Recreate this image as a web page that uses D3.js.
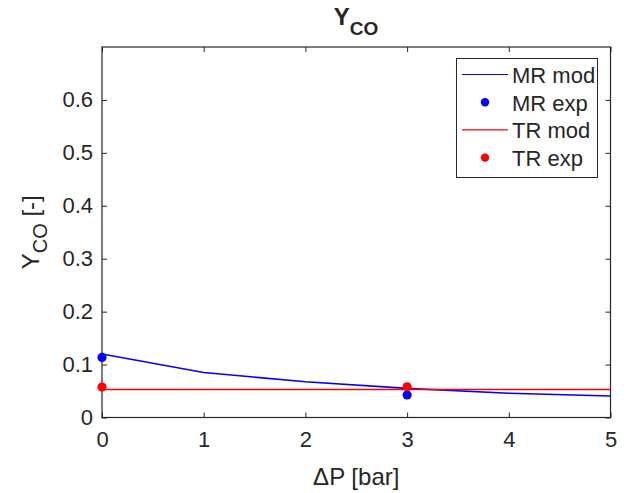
<!DOCTYPE html>
<html>
<head>
<meta charset="utf-8">
<script src="https://cdn.jsdelivr.net/npm/d3@7"></script>
<style>
  body { margin: 0; background: #fff; }
  svg text { font-family: "Liberation Sans", Arial, Helvetica, sans-serif; fill: #262626; }
</style>
</head>
<body>
<div></div>
<script>
// data
const dP = [0, 1, 2, 3, 4, 5];
const mrMod = [0.120, 0.085, 0.0675, 0.055, 0.0458, 0.0405];
const trMod = [0.053, 0.053, 0.053, 0.053, 0.053, 0.053];
const expP = [0, 3];
const mrExp = [0.1135, 0.0425];
const trExp = [0.0575, 0.058];
const xTicks = [0, 1, 2, 3, 4, 5];
const yTicks = [0, 0.1, 0.2, 0.3, 0.4, 0.5, 0.6];
const legendItems = ["MR mod", "MR exp", "TR mod", "TR exp"];

const w = 629, h = 493;
const axL = 102, axR = 610.5, axT = 47, axB = 417.5;
const axisCol = "#262626";

const xScale = d3.scaleLinear().domain([0, 5]).range([axL, axR]);
const yScale = d3.scaleLinear().domain([0, 0.7]).range([axB, axT]);

const svg = d3.select("div").append("svg")
  .attr("width", w).attr("height", h);

// axes box with inward ticks on all four sides
const tickLen = 5;
const xAxis = d3.axisBottom(xScale).tickValues(xTicks).tickSizeInner(-tickLen).tickSizeOuter(0).tickPadding(14).tickFormat(d3.format("d"));
const yAxis = d3.axisLeft(yScale).tickValues(yTicks).tickSizeInner(-tickLen).tickSizeOuter(0).tickPadding(9).tickFormat(d => d === 0 ? "0" : d3.format(".1f")(d));
const xTop = d3.axisTop(xScale).tickValues(xTicks).tickSizeInner(-tickLen).tickSizeOuter(0).tickFormat("");
const yRight = d3.axisRight(yScale).tickValues(yTicks).tickSizeInner(-tickLen).tickSizeOuter(0).tickFormat("");

function styleAxis(g) {
  g.select(".domain").remove();
  g.selectAll(".tick line").attr("stroke", axisCol);
  g.selectAll(".tick text").attr("font-size", 22).attr("fill", axisCol);
}

svg.append("g").attr("transform", "translate(0," + axB + ")").call(xAxis).call(styleAxis);
svg.append("g").attr("transform", "translate(" + axL + ",0)").call(yAxis).call(styleAxis);
svg.append("g").attr("transform", "translate(0," + axT + ")").call(xTop).call(styleAxis);
svg.append("g").attr("transform", "translate(" + axR + ",0)").call(yRight).call(styleAxis);

svg.append("rect")
  .attr("x", axL).attr("y", axT)
  .attr("width", axR - axL).attr("height", axB - axT)
  .attr("fill", "none").attr("stroke", axisCol).attr("stroke-width", 1.2);

// lines
const line = d3.line().x((d, i) => xScale(dP[i])).y(d => yScale(d));

svg.append("path").datum(mrMod)
  .attr("d", line).attr("fill", "none").attr("stroke", "#0000ff").attr("stroke-width", 1.6);

svg.selectAll(".mrexp").data(mrExp).enter().append("circle")
  .attr("class", "mrexp")
  .attr("cx", (d, i) => xScale(expP[i])).attr("cy", d => yScale(d))
  .attr("r", 4.6).attr("fill", "#0000ff");

svg.append("path").datum(trMod)
  .attr("d", line).attr("fill", "none").attr("stroke", "#ff0000").attr("stroke-width", 1.6);

svg.selectAll(".trexp").data(trExp).enter().append("circle")
  .attr("class", "trexp")
  .attr("cx", (d, i) => xScale(expP[i])).attr("cy", d => yScale(d))
  .attr("r", 4.6).attr("fill", "#ff0000");

// title
const title = svg.append("text")
  .attr("x", 356).attr("y", 25)
  .attr("text-anchor", "middle")
  .attr("font-size", 24).attr("font-weight", "bold");
title.append("tspan").text("Y");
title.append("tspan").attr("font-size", 19).attr("dy", 10).text("CO");

// axis labels
svg.append("text")
  .attr("x", (axL + axR) / 2).attr("y", 485)
  .attr("text-anchor", "middle").attr("font-size", 24)
  .text("\u0394P [bar]");

const yl = svg.append("text")
  .attr("transform", "translate(39," + ((axT + axB) / 2) + ") rotate(-90)")
  .attr("text-anchor", "middle").attr("font-size", 24);
yl.append("tspan").text("Y");
yl.append("tspan").attr("font-size", 20).attr("dy", 8).text("CO");
yl.append("tspan").attr("dy", -8).text(" [-]");

// legend
const lg = svg.append("g");
lg.append("rect")
  .attr("x", 456.5).attr("y", 58.5).attr("width", 141).attr("height", 119)
  .attr("fill", "#fff").attr("stroke", axisCol).attr("stroke-width", 1);
const legColors = ["#0000ff", "#0000ff", "#ff0000", "#ff0000"];
legendItems.forEach(function(name, i) {
  const y = 74.5 + i * 27.7;
  if (i % 2 === 0) {
    lg.append("line").attr("x1", 462).attr("x2", 508).attr("y1", y).attr("y2", y)
      .attr("stroke", legColors[i]).attr("stroke-width", 1.2);
  } else {
    lg.append("circle").attr("cx", 485).attr("cy", y).attr("r", 4.2).attr("fill", legColors[i]);
  }
  lg.append("text").attr("x", 512).attr("y", y + 8.5)
    .attr("font-size", 22).attr("fill", "#000").text(name);
});
</script>
</body>
</html>
